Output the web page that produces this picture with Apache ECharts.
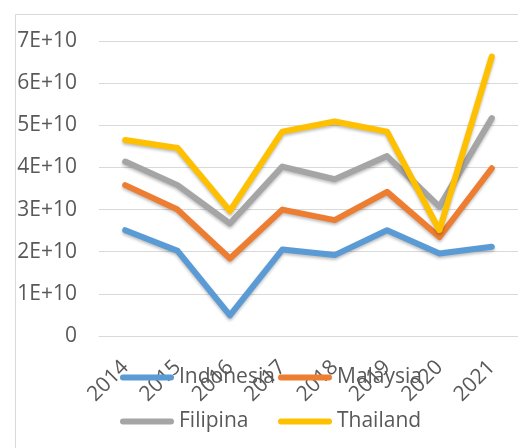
<!DOCTYPE html>
<html>
<head>
<meta charset="utf-8">
<script src="https://cdn.jsdelivr.net/npm/echarts@6/dist/echarts.min.js"></script>
<style>
  html, body { margin: 0; padding: 0; background: #fff; }
  #chart { width: 518px; height: 448px; }
</style>
</head>
<body>
<div id="chart"></div>
<script>
// Years on the category axis
const years = ['2014', '2015', '2016', '2017', '2018', '2019', '2020', '2021'];

// Yearly values per country
const indonesia = [2.51e10, 2.02e10, 0.49e10, 2.05e10, 1.92e10, 2.51e10, 1.96e10, 2.12e10];
const malaysia  = [3.58e10, 3.00e10, 1.84e10, 3.00e10, 2.75e10, 3.42e10, 2.35e10, 3.98e10];
const filipina  = [4.14e10, 3.58e10, 2.67e10, 4.02e10, 3.72e10, 4.27e10, 3.07e10, 5.17e10];
const thailand  = [4.65e10, 4.46e10, 2.97e10, 4.85e10, 5.09e10, 4.85e10, 2.51e10, 6.63e10];

// Value axis tick labels, one per 1E+10 step
const yTickLabels = ['0', '1E+10', '2E+10', '3E+10', '4E+10', '5E+10', '6E+10', '7E+10'];

const seriesNames  = ['Indonesia', 'Malaysia', 'Filipina', 'Thailand'];
const seriesData   = [indonesia, malaysia, filipina, thailand];
const seriesColors = ['#5B9BD5', '#ED7D31', '#A5A5A5', '#FFC000'];

const FONT = '"Open Sans", sans-serif';
const TEXT = '#595959';
const STEP = 1e10;

// capsule-shaped legend marker
const capsule = 'path://M3,0 L51,0 A3,3 0 0 1 51,6 L3,6 A3,3 0 0 1 3,0 Z';

const legendSpots = [
  { left: 120, top: 367 },
  { left: 278, top: 367 },
  { left: 120, top: 411 },
  { left: 278, top: 411 }
];

const chart = echarts.init(document.getElementById('chart'), null, { renderer: 'canvas' });

chart.setOption({
  animation: false,
  backgroundColor: '#ffffff',
  textStyle: { fontFamily: FONT },
  graphic: [{
    type: 'rect',
    left: 13, top: 12,
    shape: { width: 700, height: 700 },
    style: { fill: 'none', stroke: '#d9d9d9', lineWidth: 1 },
    z: -1
  }],
  grid: { left: 99, top: 41, width: 429, height: 295, containLabel: false },
  xAxis: {
    type: 'category',
    data: years,
    boundaryGap: true,
    axisLine: { show: true, lineStyle: { color: '#d9d9d9', width: 1 } },
    axisTick: { show: false },
    axisLabel: {
      interval: 0,
      rotate: 45,
      margin: 28,
      color: TEXT,
      fontSize: 21,
      fontFamily: FONT
    }
  },
  yAxis: {
    type: 'value',
    min: 0,
    max: 7 * STEP,
    interval: STEP,
    axisLine: { show: false },
    axisTick: { show: false },
    splitLine: { lineStyle: { color: '#d9d9d9', width: 1 } },
    axisLabel: {
      margin: 22,
      color: TEXT,
      fontSize: 21,
      fontFamily: FONT,
      formatter: v => yTickLabels[Math.round(v / STEP)]
    }
  },
  legend: seriesNames.map((name, i) => ({
    data: [name],
    left: legendSpots[i].left,
    top: legendSpots[i].top,
    orient: 'horizontal',
    icon: capsule,
    itemWidth: 54,
    itemHeight: 6,
    padding: 0,
    textStyle: { color: TEXT, fontSize: 21, fontFamily: FONT },
    z: 10
  })),
  series: seriesNames.map((name, i) => ({
    name,
    type: 'line',
    data: seriesData[i],
    showSymbol: false,
    symbol: 'none',
    color: seriesColors[i],
    lineStyle: {
      width: 6,
      color: seriesColors[i],
      cap: 'round',
      join: 'round',
      shadowColor: 'rgba(0,0,0,0.25)',
      shadowBlur: 3,
      shadowOffsetY: 2
    },
    z: 2 + i
  }))
});
</script>
</body>
</html>
